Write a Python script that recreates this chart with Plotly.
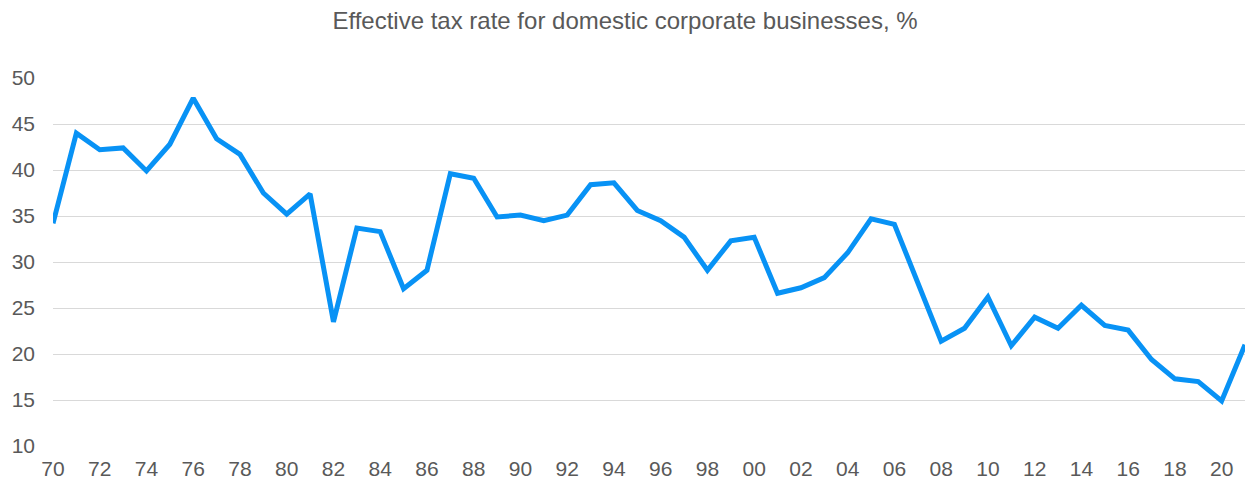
import plotly.graph_objects as go

years = list(range(1970, 2022))
tax_rate = [34.2, 44.0, 42.2, 42.4, 39.9, 42.8, 47.8, 43.4, 41.7, 37.5,
            35.2, 37.4, 23.5, 33.7, 33.3, 27.1, 29.1, 39.6, 39.1, 34.9,
            35.1, 34.5, 35.1, 38.4, 38.6, 35.6, 34.5, 32.7, 29.1, 32.3,
            32.7, 26.6, 27.2, 28.3, 31.0, 34.7, 34.1, 27.9, 21.4, 22.8,
            26.2, 20.9, 24.0, 22.8, 25.3, 23.1, 22.6, 19.4, 17.3, 17.0,
            14.9, 21.0]
tick_years = list(range(1970, 2021, 2))
tick_text = [f"{y % 100:02d}" for y in tick_years]
title_text = "Effective tax rate for domestic corporate businesses, %"

fig = go.Figure()
fig.add_trace(go.Scatter(
    x=years, y=tax_rate, mode="lines",
    line=dict(color="#0892F5", width=5),
    hoverinfo="x+y", showlegend=False,
))

fig.update_layout(
    width=1245, height=483,
    margin=dict(l=53, r=0, t=78, b=37),
    paper_bgcolor="white", plot_bgcolor="white",
    font=dict(family="Liberation Sans, Arial, sans-serif", color="#595959", size=21),
    title=dict(text=title_text, x=0.502, xanchor="center", y=0.958, yanchor="middle",
               font=dict(size=24, color="#595959")),
)
fig.update_xaxes(
    range=[1970, 2021], tickvals=tick_years, ticktext=tick_text,
    showgrid=False, zeroline=False, showline=False, ticks="",
    ticklabelstandoff=8,
    tickfont=dict(size=21, color="#595959"),
)
fig.update_yaxes(
    range=[10, 50], tickvals=[10, 15, 20, 25, 30, 35, 40, 45, 50],
    showgrid=True, gridcolor="#D9D9D9", gridwidth=1, zeroline=False,
    showline=False, ticks="", ticklabelstandoff=17,
    tickfont=dict(size=21, color="#595959"),
)

fig.write_html("out.html")
